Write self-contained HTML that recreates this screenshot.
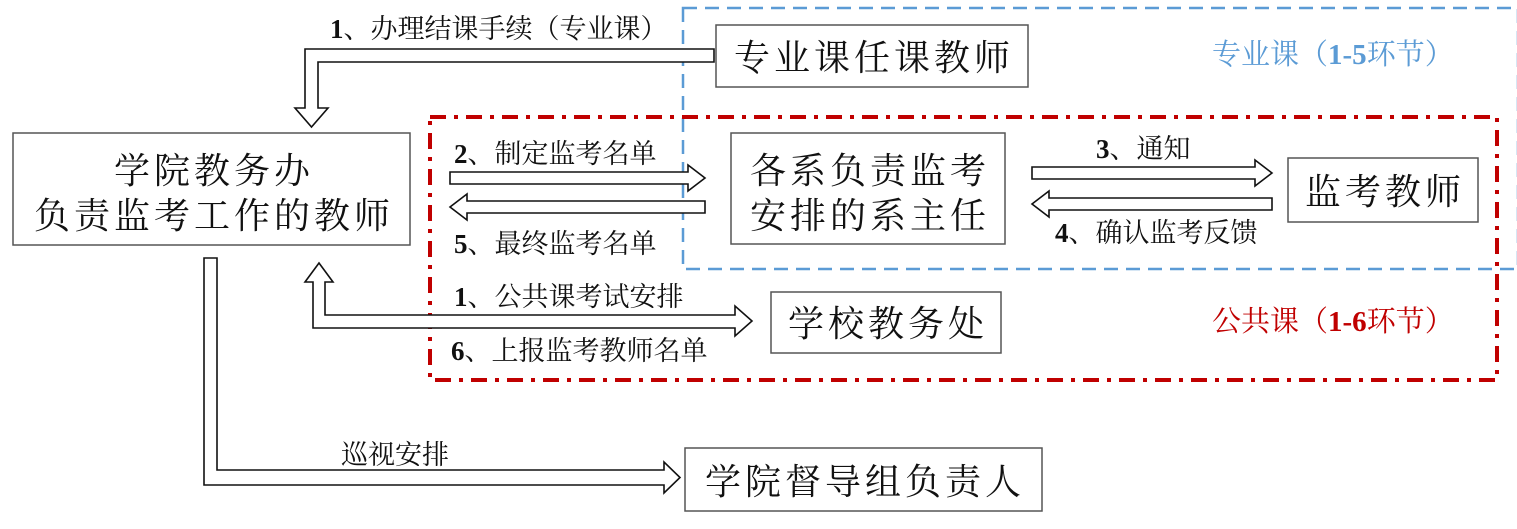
<!DOCTYPE html>
<html><head><meta charset="utf-8"><style>
html,body{margin:0;padding:0;background:#fff;width:1517px;height:529px;overflow:hidden}
svg{display:block}
.box{fill:#fff;stroke:#555;stroke-width:1.5}
.arr{fill:#fff;stroke:#111;stroke-width:1.6;stroke-linejoin:miter}
.bt{font-family:"Liberation Serif","Noto Serif CJK SC",serif;font-size:36px;fill:#111;letter-spacing:4px}
.lb{font-family:"Liberation Serif","Noto Serif CJK SC",serif;font-size:27px;fill:#111}
.lb tspan.n{font-weight:bold}
</style></head><body>
<svg width="1517" height="529" viewBox="0 0 1517 529" xmlns="http://www.w3.org/2000/svg">
<rect x="683" y="8" width="835" height="261" fill="none" stroke="#5b9bd5" stroke-width="2.5" stroke-dasharray="14,8"/>
<rect x="430" y="117" width="1067" height="263" fill="none" stroke="#c00000" stroke-width="4" stroke-dasharray="16,8,4,8"/>

<rect class="box" x="13" y="133" width="397" height="112"/>
<rect class="box" x="716" y="25" width="312" height="62"/>
<rect class="box" x="731" y="133" width="274" height="111"/>
<rect class="box" x="1288" y="158" width="190" height="64"/>
<rect class="box" x="771" y="292" width="230" height="61"/>
<rect class="box" x="685" y="448" width="357" height="63"/>

<polygon class="arr" points="714,49 714,62 318,62 318,108 328,108 311.5,127 295,108 305,108 305,49"/>
<polygon class="arr" points="450,172 688,172 688,165 705,178 688,191 688,184 450,184"/>
<polygon class="arr" points="705,201 467,201 467,194 450,207 467,220 467,213 705,213"/>
<polygon class="arr" points="1032,167 1255,167 1255,160 1272,173 1255,186 1255,179 1032,179"/>
<polygon class="arr" points="1272,198 1049,198 1049,191 1032,204 1049,217 1049,210 1272,210"/>
<polygon class="arr" points="313,328 313,282 305,282 319,263 333,282 325,282 325,315 735,315 735,306 752,321 735,336 735,328"/>
<polygon class="arr" points="204,258 217,258 217,470 664,470 664,462 680,477.5 664,493 664,485 204,485"/>

<text class="bt" x="214" y="183" text-anchor="middle">学院教务办</text>
<text class="bt" x="214" y="228" text-anchor="middle">负责监考工作的教师</text>
<text class="bt" x="874" y="70" text-anchor="middle">专业课任课教师</text>
<text class="bt" x="870" y="183" text-anchor="middle">各系负责监考</text>
<text class="bt" x="870" y="228" text-anchor="middle">安排的系主任</text>
<text class="bt" x="1385" y="204" text-anchor="middle">监考教师</text>
<text class="bt" x="888" y="336" text-anchor="middle">学校教务处</text>
<text class="bt" x="865" y="494" text-anchor="middle">学院督导组负责人</text>

<text class="lb" x="330" y="38"><tspan class="n">1</tspan>、办理结课手续（专业课）</text>
<text class="lb" x="454" y="163"><tspan class="n">2</tspan>、制定监考名单</text>
<text class="lb" x="454" y="253"><tspan class="n">5</tspan>、最终监考名单</text>
<text class="lb" x="1096" y="158"><tspan class="n">3</tspan>、通知</text>
<text class="lb" x="1055" y="242"><tspan class="n">4</tspan>、确认监考反馈</text>
<text class="lb" x="454" y="306"><tspan class="n">1</tspan>、公共课考试安排</text>
<text class="lb" x="451" y="360"><tspan class="n">6</tspan>、上报监考教师名单</text>
<text class="lb" x="341" y="464">巡视安排</text>
<text class="lb" x="1212" y="64" style="fill:#5b9bd5;font-size:29px">专业课（<tspan class="n">1-5</tspan>环节）</text>
<text class="lb" x="1212" y="331" style="fill:#c00000;font-size:29px">公共课（<tspan class="n">1-6</tspan>环节）</text>
</svg>
</body></html>
